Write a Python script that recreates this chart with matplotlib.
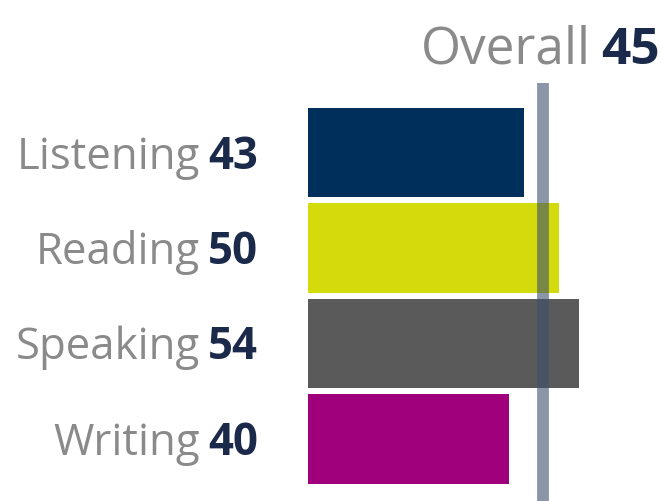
import matplotlib.pyplot as plt
import matplotlib.transforms as mtransforms

skills = ['Listening', 'Reading', 'Speaking', 'Writing']
scores = [43, 50, 54, 40]
colors = ['#002f5c', '#d4db0c', '#5a5a5a', '#a0007c']
overall = 45

W, H = 661, 501
fig = plt.figure(figsize=(W / 100, H / 100), dpi=100)
fig.patch.set_facecolor('white')

# axes placed in pixel units so 0 sits at x=308 and 1 point = ~5 px
left, right, top, bottom = 308, 659, 83, 501
ax = fig.add_axes([left / W, 1 - bottom / H, (right - left) / W, (bottom - top) / H])
ax.set_xlim(0, (right - left) / 5.02)
ax.set_ylim(3.65, -0.728)
ax.axis('off')

ypos = list(range(len(skills)))
ax.barh(ypos, scores, height=0.94, color=colors, zorder=2)

# overall marker line, nudged a little right as in the original
shift = mtransforms.offset_copy(ax.transData, fig=fig, x=9, y=0, units='dots')
ax.plot([overall, overall], [0, 1], color='#3c506e', alpha=0.6, lw=8.5, zorder=3,
        solid_capstyle='butt', clip_on=False,
        transform=mtransforms.blended_transform_factory(shift, ax.transAxes))

fam = ['Open Sans', 'DejaVu Sans']
grey = '#8a8a8a'
navy = '#1b2a4a'
fig.canvas.draw()
renderer = fig.canvas.get_renderer()

for y, name, val in zip(ypos, skills, scores):
    num = ax.annotate(str(val), xy=(0, y), xytext=(-50, -16), textcoords='offset pixels',
                      ha='right', va='baseline', fontsize=31.5, fontweight='bold',
                      color=navy, family=fam)
    w = num.get_window_extent(renderer).width
    ax.annotate(name, xy=(0, y), xytext=(-50 - w - 8, -16), textcoords='offset pixels',
                ha='right', va='baseline', fontsize=31.5, color=grey, family=fam)

tot = fig.text(660 / W, 1 - 64 / H, str(overall), ha='right', va='baseline',
               fontsize=37, fontweight='bold', color=navy, family=fam)
tw = tot.get_window_extent(renderer).width
fig.text((660 - tw - 11) / W, 1 - 64 / H, 'Overall', ha='right', va='baseline',
         fontsize=37, color=grey, family=fam)

fig.savefig('out.png', dpi=100)
